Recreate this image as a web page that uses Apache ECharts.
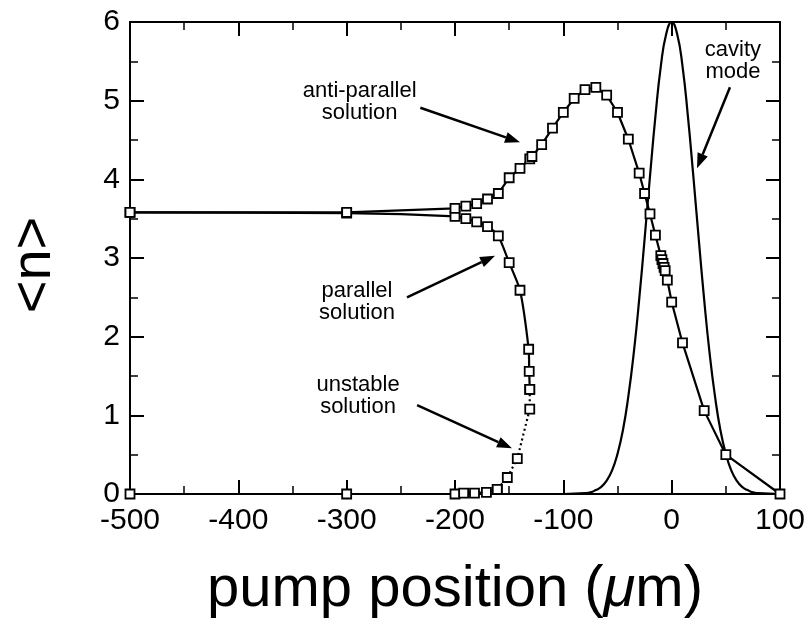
<!DOCTYPE html>
<html><head><meta charset="utf-8">
<script src="https://cdn.jsdelivr.net/npm/echarts@6/dist/echarts.min.js"></script>
<style>html,body{margin:0;padding:0;background:#fff}#c{width:810px;height:621px}</style>
</head><body><div id="c"></div>
<script>
// ---- data ----
const antiX = [-500,-300,-200,-190,-180,-170,-160,-150,-140,-131,-129,-120,-110,-100,-90,-80,-70,-60,-50,-40,-30,-25,-20,-15,-10,-9,-8,-7,-6,-4,0,10,30,50,100];
const antiY = [3.58,3.58,3.63,3.66,3.69,3.75,3.82,4.02,4.14,4.26,4.29,4.44,4.65,4.85,5.03,5.14,5.17,5.07,4.85,4.51,4.08,3.82,3.56,3.29,3.03,2.98,2.93,2.88,2.84,2.72,2.44,1.92,1.06,0.50,0.0];
const parX = [-500,-300,-200,-190,-180,-170,-160,-150,-140,-132,-131.5,-131];
const parY = [3.58,3.57,3.53,3.50,3.46,3.40,3.28,2.94,2.59,1.84,1.56,1.33];
const unstX = [-131,-131,-142.5,-151.7,-161];
const unstY = [1.33,1.08,0.45,0.21,0.06];
const groundX = [-500,-300,-200,-192,-182,-171,-161];
const groundY = [0,0,0,0.01,0.01,0.02,0.06];
const cavX = [-100,-80,-75,-70,-65,-60,-55,-50,-45,-40,-35,-30,-25,-20,-15,-10,-5,0,5,10,15,20,25,30,35,40,45,50,55,60,65,70,75,80,100];
const cavY = [0,0.01,0.02,0.05,0.09,0.17,0.30,0.51,0.81,1.24,1.79,2.47,3.24,4.04,4.80,5.44,5.85,6.0,5.85,5.44,4.80,4.04,3.24,2.47,1.79,1.24,0.81,0.51,0.30,0.17,0.09,0.05,0.02,0.01,0];
const xTicks = {min:-500, max:100, step:100};
const yTicks = {min:0, max:6, step:1};
const labels = [
  {text:'anti-parallel\nsolution', at:[-288,4.98], from:[-232,4.91], to:[-140,4.47]},
  {text:'cavity\nmode', at:[56.6,5.50], from:[53.8,5.17], to:[23.4,4.14]},
  {text:'parallel\nsolution', at:[-290.5,2.44], from:[-244.3,2.50], to:[-163,3.03]},
  {text:'unstable\nsolution', at:[-289.5,1.25], from:[-235,1.13], to:[-147.4,0.58]}
];

// ---- chart ----
const FONT = '"Liberation Sans", Arial, Helvetica, sans-serif';
const pair = (xs, ys) => xs.map((x, i) => [x, ys[i]]);
const chart = echarts.init(document.getElementById('c'), null, {renderer:'canvas'});
function axis(kind, pos, showLabel) {
  const t = kind === 'x' ? xTicks : yTicks;
  return {
    type:'value', position:pos, min:t.min, max:t.max, interval:t.step,
    axisLine:{show:true, onZero:false, lineStyle:{color:'#000', width:2}},
    axisTick:{show:true, inside:true, length:14, lineStyle:{color:'#000', width:2}},
    minorTick:{show:true, splitNumber:2, length:8, lineStyle:{color:'#000', width:1.5}},
    splitLine:{show:false}, minorSplitLine:{show:false},
    axisLabel:{show:showLabel, color:'#000', fontSize:30, fontFamily:FONT, margin: kind==='x'?12:10}
  };
}
const sym = {symbol:'rect', symbolSize:9, itemStyle:{color:'#fff', borderColor:'#000', borderWidth:1.8}};
chart.setOption({
  animation:false,
  backgroundColor:'#fff',
  grid:{left:130, right:30, top:22, bottom:127},
  xAxis:[axis('x','bottom',true), axis('x','top',false)],
  yAxis:[axis('y','left',true), axis('y','right',false)],
  series:[
    {type:'line', data:pair(cavX,cavY), smooth:true, showSymbol:false, lineStyle:{color:'#000', width:2.2}, z:2},
    Object.assign({type:'line', data:pair(groundX,groundY), lineStyle:{color:'#000', width:2.2}, z:3}, sym),
    Object.assign({type:'line', data:pair(unstX,unstY), lineStyle:{color:'#000', width:2.2, type:[2,3]}, z:3}, sym),
    Object.assign({type:'line', data:pair(parX,parY), smooth:0.2, lineStyle:{color:'#000', width:2.2}, z:3}, sym),
    Object.assign({type:'line', data:pair(antiX,antiY), lineStyle:{color:'#000', width:2.2}, z:3}, sym)
  ]
});

// ---- annotations, titles ----
const P = v => chart.convertToPixel({gridIndex:0}, v);
const g = [];
labels.forEach(l => {
  const c = P(l.at), a = P(l.from), b = P(l.to);
  g.push({type:'text', x:c[0], y:c[1], style:{text:l.text, font:'22px ' + FONT, fill:'#000', align:'center', verticalAlign:'middle', lineHeight:22}});
  const dx = b[0]-a[0], dy = b[1]-a[1], L = Math.hypot(dx,dy), ux = dx/L, uy = dy/L;
  const hl = 15, hw = 5.5;
  const bx = b[0]-ux*hl, by = b[1]-uy*hl;
  g.push({type:'line', shape:{x1:a[0], y1:a[1], x2:bx, y2:by}, style:{stroke:'#000', lineWidth:2.5}});
  g.push({type:'polygon', shape:{points:[[b[0],b[1]],[bx-uy*hw,by+ux*hw],[bx+uy*hw,by-ux*hw]]}, style:{fill:'#000'}});
});
g.push({type:'text', x:455, y:590, style:{
  text:'{a|pump position (}{b|μ}{a|m)}', align:'center', verticalAlign:'middle',
  rich:{a:{font:'58px ' + FONT, fill:'#000'}, b:{font:'italic 58px ' + FONT, fill:'#000'}}
}});
g.push({type:'text', x:35, y:265, rotation:Math.PI/2, style:{text:'<n>', font:'56px ' + FONT, fill:'#000', align:'center', verticalAlign:'middle'}});
chart.setOption({graphic:g});
</script>
</body></html>
